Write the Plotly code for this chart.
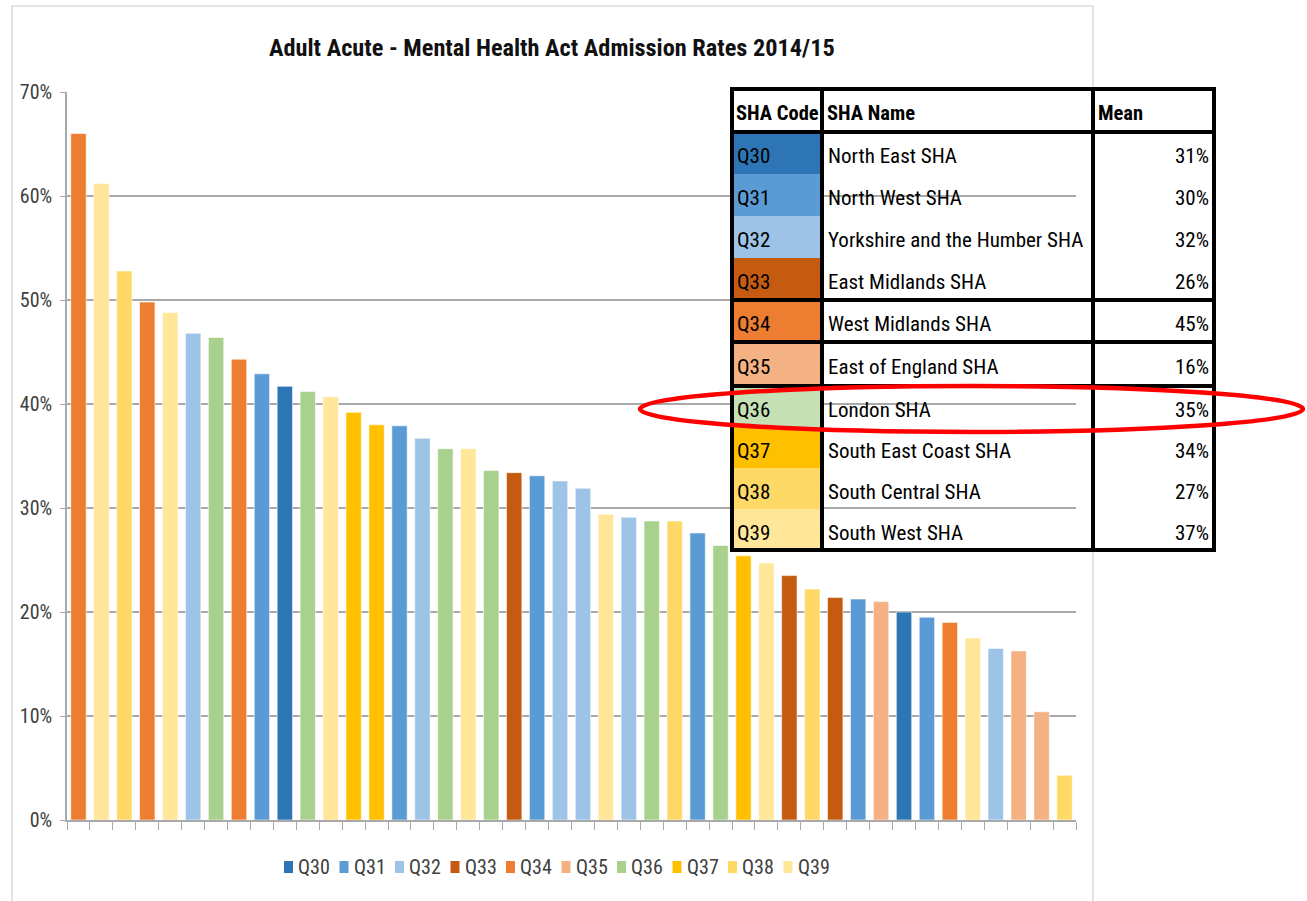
import plotly.graph_objects as go

# ---------------- data ----------------
bar_codes = ["Q34", "Q39", "Q38", "Q34", "Q39", "Q32", "Q36", "Q34", "Q31", "Q30",
             "Q36", "Q39", "Q37", "Q37", "Q31", "Q32", "Q36", "Q39", "Q36", "Q33",
             "Q31", "Q32", "Q32", "Q39", "Q32", "Q36", "Q38", "Q31", "Q36", "Q37",
             "Q39", "Q33", "Q38", "Q33", "Q31", "Q35", "Q30", "Q31", "Q34", "Q39",
             "Q32", "Q35", "Q35", "Q38"]
bar_values = [66.0, 61.2, 52.8, 49.8, 48.8, 46.8, 46.4, 44.3, 42.9, 41.7,
              41.2, 40.7, 39.2, 38.0, 37.9, 36.7, 35.7, 35.7, 33.6, 33.4,
              33.1, 32.6, 31.9, 29.4, 29.1, 28.75, 28.75, 27.6, 26.4, 25.4,
              24.7, 23.5, 22.2, 21.4, 21.25, 21.0, 20.0, 19.5, 19.0, 17.5,
              16.5, 16.25, 10.4, 4.3]

series_codes = ["Q30", "Q31", "Q32", "Q33", "Q34", "Q35", "Q36", "Q37", "Q38", "Q39"]
series_colors = ["#2E75B6", "#5B9BD5", "#9DC3E6", "#C55A11", "#ED7D31",
                 "#F4B183", "#A9D18E", "#FFC000", "#FFD966", "#FFE699"]

sha_names = ["North East SHA", "North West SHA", "Yorkshire and the Humber SHA",
             "East Midlands SHA", "West Midlands SHA", "East of England SHA",
             "London SHA", "South East Coast SHA", "South Central SHA", "South West SHA"]
sha_means = [31, 30, 32, 26, 45, 16, 35, 34, 27, 37]
table_code_colors = ["#2E75B6", "#5B9BD5", "#9DC3E6", "#C55A11", "#ED7D31",
                     "#F4B183", "#C5E0B4", "#FFC000", "#FFD966", "#FFE699"]
table_headers = ["SHA Code", "SHA Name", "Mean"]

y_tick_values = [0, 10, 20, 30, 40, 50, 60, 70]
y_tick_labels = [f"{v}%" for v in y_tick_values]
title_text = "Adult Acute - Mental Health Act Admission Rates 2014/15"

# ---------------- layout helpers ----------------
W, H = 1307, 901
L, R, T, B = 67, 1076, 92, 820
FONT = "Liberation Sans Narrow, Arial Narrow, Roboto Condensed, sans-serif"
GRAY = "#A9A9A9"
BAR_WIDTH = 0.67


def px(x):
    return (x - L) / (R - L)


def py(y):
    return (B - y) / (B - T)


fig = go.Figure()
for code, color in zip(series_codes, series_colors):
    xs = [i for i, c in enumerate(bar_codes) if c == code]
    ys = [bar_values[i] for i in xs]
    fig.add_trace(go.Bar(
        x=xs, y=ys, name=code, width=BAR_WIDTH,
        marker=dict(color=color, line=dict(width=0.8, color="rgba(255,255,255,0.7)")),
        showlegend=False,
    ))

shapes = []
annotations = []

# chart border (thin gray frame)
for (x0, y0, x1, y1) in [(12, 6, 1093, 6), (12, 6, 12, 901), (1093, 6, 1093, 901)]:
    shapes.append(dict(type="line", xref="paper", yref="paper",
                       x0=px(x0), y0=py(y0), x1=px(x1), y1=py(y1),
                       line=dict(color="#C8C8C8", width=1), layer="below"))

# title
annotations.append(dict(text=title_text, xref="paper", yref="paper",
                        x=px(552), y=py(48), xanchor="center", yanchor="middle",
                        showarrow=False,
                        font=dict(family=FONT, size=24.3, color="#111111", weight="bold")))

# manual legend
for i, (code, color) in enumerate(zip(series_codes, series_colors)):
    x0 = 284 + 55.5 * i
    shapes.append(dict(type="rect", xref="paper", yref="paper",
                       x0=px(x0), x1=px(x0 + 9), y0=py(873), y1=py(861),
                       fillcolor=color, line=dict(width=0)))
    annotations.append(dict(text=code, xref="paper", yref="paper",
                            x=px(x0 + 12), y=py(867), xanchor="left", yanchor="middle",
                            showarrow=False,
                            font=dict(family=FONT, size=20, color="#404040")))

# table overlay
col_edges = [732, 822, 1093, 1214]
header_top, header_bot = 89, 132
row_edges = [132, 174, 216, 258, 300, 342, 386, 427, 468, 509, 550]

for i, color in enumerate(table_code_colors):
    shapes.append(dict(type="rect", xref="paper", yref="paper",
                       x0=px(col_edges[0]), x1=px(col_edges[1]),
                       y0=py(row_edges[i + 1]), y1=py(row_edges[i]),
                       fillcolor=color, line=dict(width=0), layer="above"))

for yline in [header_top, header_bot, 300, 342, 386, 550]:
    shapes.append(dict(type="line", xref="paper", yref="paper",
                       x0=px(col_edges[0] - 2), x1=px(col_edges[-1] + 2),
                       y0=py(yline), y1=py(yline),
                       line=dict(color="black", width=4), layer="above"))
for xline in col_edges:
    shapes.append(dict(type="line", xref="paper", yref="paper",
                       x0=px(xline), x1=px(xline),
                       y0=py(header_top), y1=py(550),
                       line=dict(color="black", width=4), layer="above"))

header_x = [734, 825, 1096]
for hx, htxt in zip(header_x, table_headers):
    annotations.append(dict(text=htxt, xref="paper", yref="paper",
                            x=px(hx), y=py(113), xanchor="left", yanchor="middle",
                            showarrow=False,
                            font=dict(family=FONT, size=20.5, color="black", weight="bold")))

for i in range(len(series_codes)):
    yc = (row_edges[i] + row_edges[i + 1]) / 2 + 3
    annotations.append(dict(text=series_codes[i], xref="paper", yref="paper",
                            x=px(735), y=py(yc), xanchor="left", yanchor="middle",
                            showarrow=False,
                            font=dict(family=FONT, size=21, color="black")))
    annotations.append(dict(text=sha_names[i], xref="paper", yref="paper",
                            x=px(826), y=py(yc), xanchor="left", yanchor="middle",
                            showarrow=False,
                            font=dict(family=FONT, size=21, color="black")))
    annotations.append(dict(text=f"{sha_means[i]}%", xref="paper", yref="paper",
                            x=px(1211), y=py(yc), xanchor="right", yanchor="middle",
                            showarrow=False,
                            font=dict(family=FONT, size=21, color="black")))

# red highlight ellipse
shapes.append(dict(type="circle", xref="paper", yref="paper",
                   x0=px(640), x1=px(1303), y0=py(432), y1=py(386),
                   line=dict(color="#FF0000", width=4.5), layer="above"))

n = len(bar_values)
fig.update_layout(
    width=W, height=H, autosize=False,
    margin=dict(l=L, r=W - R, t=T, b=H - B, pad=0),
    paper_bgcolor="white", plot_bgcolor="white",
    barmode="overlay", bargap=0.33,
    showlegend=False,
    shapes=shapes, annotations=annotations,
    font=dict(family=FONT),
    xaxis=dict(range=[-0.5, n - 0.5], tickvals=[i - 0.5 for i in range(n + 1)],
               showticklabels=False, ticks="outside", ticklen=8, tickcolor=GRAY,
               tickwidth=1, showline=True, linecolor=GRAY, linewidth=1.5,
               showgrid=False, zeroline=False, fixedrange=True),
    yaxis=dict(range=[0, 70], tickvals=y_tick_values, ticktext=y_tick_labels,
               ticks="outside", ticklen=5, tickcolor=GRAY, tickwidth=1,
               showline=True, linecolor=GRAY, linewidth=1.5,
               showgrid=True, gridcolor=GRAY, gridwidth=1.5, zeroline=False,
               tickfont=dict(family=FONT, size=20, color="#404040"),
               ticklabelstandoff=4, fixedrange=True),
)

fig.write_html("out.html", config={"displayModeBar": False},
               post_script="document.body.style.margin='0px';document.body.style.overflow='hidden';")
